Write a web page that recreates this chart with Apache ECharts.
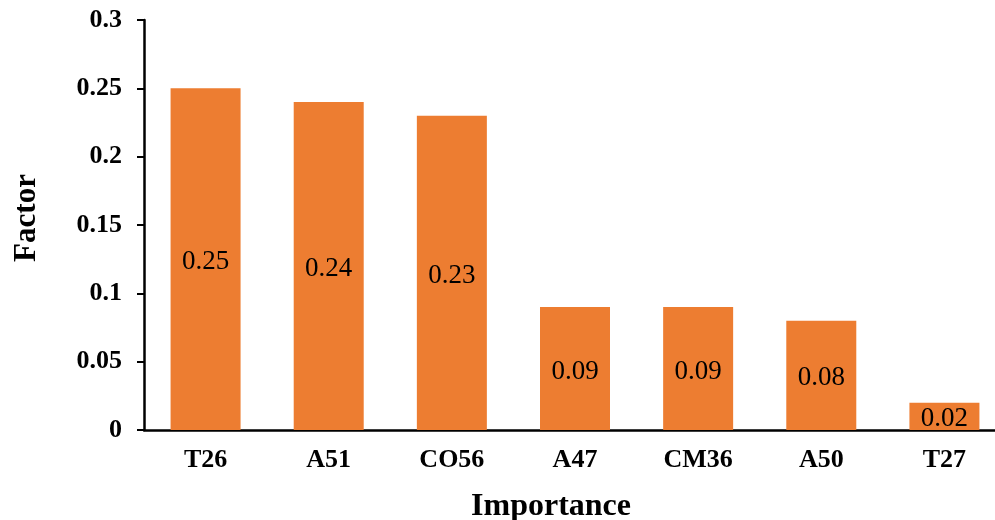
<!DOCTYPE html>
<html>
<head>
<meta charset="utf-8">
<script src="https://cdn.jsdelivr.net/npm/echarts@6/dist/echarts.min.js"></script>
<style>html,body{margin:0;padding:0;background:#fff;}#c{width:995px;height:520px;}</style>
</head>
<body>
<div id="c"></div>
<script>
var categories = ['T26', 'A51', 'CO56', 'A47', 'CM36', 'A50', 'T27'];
var values = [0.25, 0.24, 0.23, 0.09, 0.09, 0.08, 0.02];
var yTicks = [0, 0.05, 0.1, 0.15, 0.2, 0.25, 0.3];

var serif = '"Liberation Serif", "DejaVu Serif", serif';
var chart = echarts.init(document.getElementById('c'), null, {renderer: 'canvas'});
chart.setOption({
  animation: false,
  backgroundColor: '#fff',
  grid: {left: 144, top: 20, bottom: 90, width: 862, containLabel: false, outerBoundsMode: 'none'},
  xAxis: {
    type: 'category',
    data: categories,
    name: 'Importance',
    nameLocation: 'middle',
    nameGap: 61,
    nameTextStyle: {fontFamily: serif, fontWeight: 'bold', fontSize: 32, color: '#000', padding: [0, 48, 0, 0]},
    axisLine: {lineStyle: {color: '#000', width: 2.5}},
    axisTick: {alignWithLabel: true, length: 6, lineStyle: {color: '#000', width: 2}},
    axisLabel: {fontFamily: serif, fontWeight: 'bold', fontSize: 26, color: '#000', margin: 17}
  },
  yAxis: {
    type: 'value',
    min: yTicks[0],
    max: yTicks[yTicks.length - 1],
    interval: 0.05,
    name: 'Factor',
    nameLocation: 'middle',
    nameGap: 102,
    nameTextStyle: {fontFamily: serif, fontWeight: 'bold', fontSize: 31, color: '#000', padding: [0, 0, 0, 14]},
    splitLine: {show: false},
    axisLine: {show: true, lineStyle: {color: '#000', width: 2.5}},
    axisTick: {show: true, length: 7, lineStyle: {color: '#000', width: 2}},
    axisLabel: {fontFamily: serif, fontWeight: 'bold', fontSize: 26, color: '#000', margin: 22,
      formatter: function (v) { return String(+v.toFixed(2)); }}
  },
  series: [{
    type: 'bar',
    data: values,
    barWidth: 70,
    itemStyle: {color: '#ED7D31'},
    label: {show: true, position: 'inside', offset: [0, 3], fontFamily: serif, fontSize: 27, color: '#000',
      formatter: function (p) { return p.value.toFixed(2); }}
  }]
});
</script>
</body>
</html>
